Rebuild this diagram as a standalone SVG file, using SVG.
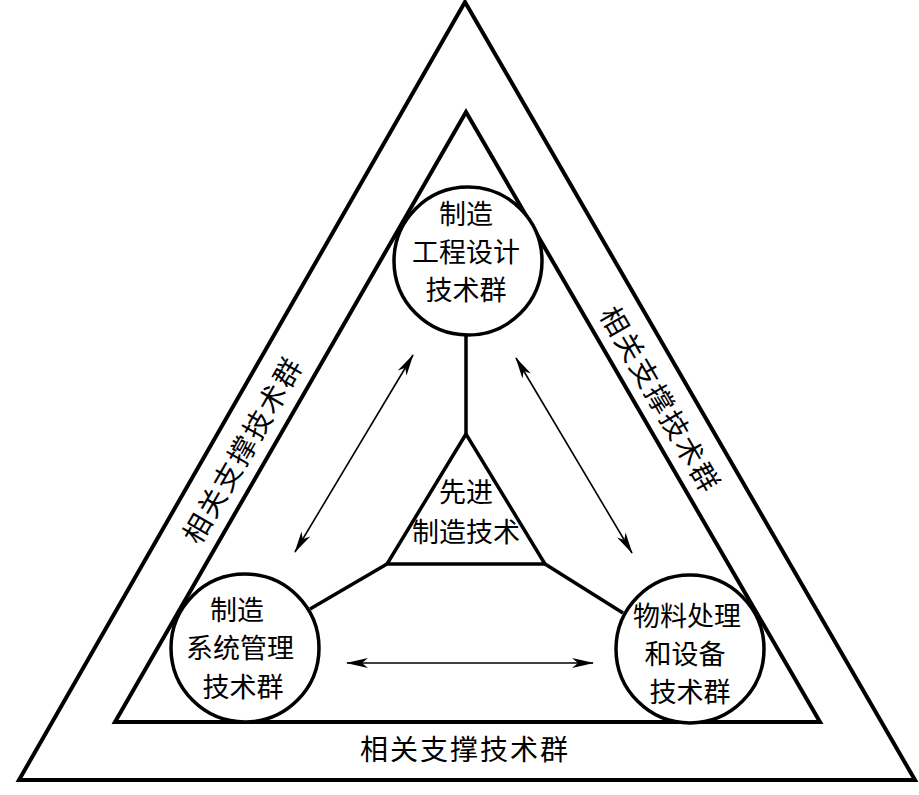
<svg xmlns="http://www.w3.org/2000/svg" width="919" height="795" viewBox="0 0 919 795">
<style>
.tri{fill:none;stroke:#000;stroke-width:4;stroke-linejoin:miter}
.circ{fill:#fff;stroke:#000;stroke-width:3.5}
.link{stroke:#000;stroke-width:3.5;fill:none}
.arr{stroke:#000;stroke-width:1.6;fill:none;marker-start:url(#ah);marker-end:url(#ah)}
text{font-family:"Noto Sans CJK SC","Noto Sans CJK JP",sans-serif;font-size:27px;fill:#000;text-anchor:middle}
</style>
<defs>
<marker id="ah" viewBox="0 0 22 10" refX="21" refY="5" markerWidth="22" markerHeight="10" markerUnits="userSpaceOnUse" orient="auto-start-reverse">
<path d="M0,0 L22,5 L0,10 L6,5 Z" fill="#000"/>
</marker>
</defs>
<rect width="919" height="795" fill="#fff"/>
<g id="outer-triangle">
<polygon class="tri" points="465,2 19,780 915,780"/>
</g>
<g id="inner-triangle">
<polygon class="tri" points="466,112 115,722 820,722"/>
</g>
<g id="connectors">
<line class="link" x1="466" y1="335" x2="466" y2="434"/>
<line class="link" x1="387" y1="564" x2="310" y2="609"/>
<line class="link" x1="545" y1="564" x2="623" y2="613"/>
<line class="arr" x1="295" y1="552" x2="413" y2="355"/>
<line class="arr" x1="516" y1="358" x2="632" y2="553"/>
<line class="arr" x1="347" y1="663" x2="593" y2="663"/>
</g>
<g id="center">
<polygon class="tri" points="466,434 387,564 545,564" style="stroke-width:3.5"/>
<text x="466" y="502">先进</text>
<text x="466" y="542">制造技术</text>
</g>
<g id="node-top">
<circle class="circ" cx="468" cy="261" r="74"/>
<text x="466" y="224">制造</text>
<text x="466" y="262">工程设计</text>
<text x="466" y="300">技术群</text>
</g>
<g id="node-left">
<circle class="circ" cx="245" cy="648" r="74"/>
<text x="237" y="620">制造</text>
<text x="240" y="658">系统管理</text>
<text x="243" y="697">技术群</text>
</g>
<g id="node-right">
<circle class="circ" cx="690" cy="649" r="74"/>
<text x="687" y="626">物料处理</text>
<text x="685" y="664">和设备</text>
<text x="690" y="702">技术群</text>
</g>
<g id="labels">
<text x="465" y="760" style="font-size:28px;letter-spacing:2px">相关支撑技术群</text>
<text transform="translate(243,450) rotate(-60)" y="10" style="font-size:28px;letter-spacing:2px">相关支撑技术群</text>
<text transform="translate(660,400) rotate(60)" y="10" style="font-size:28px;letter-spacing:2px">相关支撑技术群</text>
</g>
</svg>
